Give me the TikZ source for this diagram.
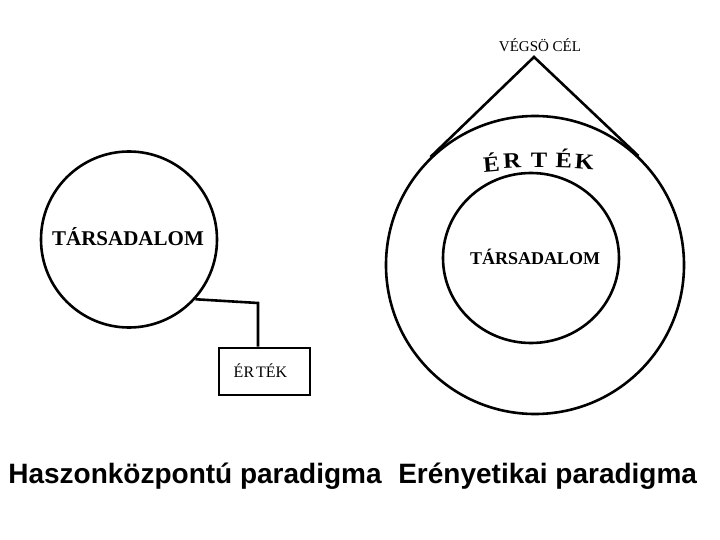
\documentclass[tikz,border=0pt]{standalone}
\usepackage{fontspec}
\setmainfont{Liberation Serif}
\newfontfamily\sansf{Liberation Sans}
\usetikzlibrary{shapes.geometric,calc}
\newcommand{\wideletter}[1]{\scalebox{1.12}[1]{#1}}
\begin{document}
\begin{tikzpicture}[x=1pt,y=-1pt,line width=2.6pt,
  ring/.style={circle,draw,inner sep=0pt,minimum size=#1},
  bigword/.style={font=\bfseries\fontsize{#1}{#1}\selectfont,inner sep=0pt},
  smallword/.style={font=\fontsize{#1}{#1}\selectfont,inner sep=0pt},
  arcletter/.style={font=\bfseries\fontsize{22}{22}\selectfont,inner sep=0pt,anchor=base},
  caption/.style={font=\sansf\bfseries\fontsize{28}{28}\selectfont,inner sep=0pt,anchor=base west},
  boxstyle/.style={draw,inner sep=0pt,minimum width=91pt,minimum height=47pt}]
\useasboundingbox[fill=white] (0,0) rectangle (720,540);
% left diagram
\node[ring=176] (L) at (129,239.5) {};
\node[bigword=21] (Ltext) at (128,237) {TÁRSADALOM};
\node[boxstyle] (box) at (264.5,371.5) {};
\node[smallword=16,anchor=base] (boxtext) at (260.5,377) {ÉR\kern2pt TÉK};
\coordinate (bend) at (258,303);
\draw (L.-42) -- (bend) -- (bend |- box.north);
% right diagram
\node[ring=298] (O) at (535,265) {};
\node[ellipse,draw,inner sep=0pt,minimum width=176pt,minimum height=170pt] (I) at (531,258) {};
\node[bigword=18] (Itext) at (535,257) {TÁRSADALOM};
\coordinate (apex) at (534,57);
\coordinate (t1) at (tangent cs:node=O,point={(apex)},solution=1);
\coordinate (t2) at (tangent cs:node=O,point={(apex)},solution=2);
\draw[line join=miter] (t1) -- (apex) -- (t2);
\node[smallword=15,anchor=base] (goal) at (540,52) {VÉGSÖ CÉL};
\node[arcletter,rotate=5] (a1) at (492,172) {\wideletter{É}};
\node[arcletter,rotate=3] (a2) at (512.5,168) {\wideletter{R}};
\node[arcletter] (a3) at (539,168) {\wideletter{T}};
\node[arcletter,rotate=-2] (a4) at (563.5,168) {\wideletter{É}};
\node[arcletter,rotate=-4] (a5) at (584,169) {\wideletter{K}};
% captions
\node[caption] (c1) at (7,483) {Haszonközpontú paradigma};
\node[caption] (c2) at (397,483) {Erényetikai paradigma};
\end{tikzpicture}
\end{document}
